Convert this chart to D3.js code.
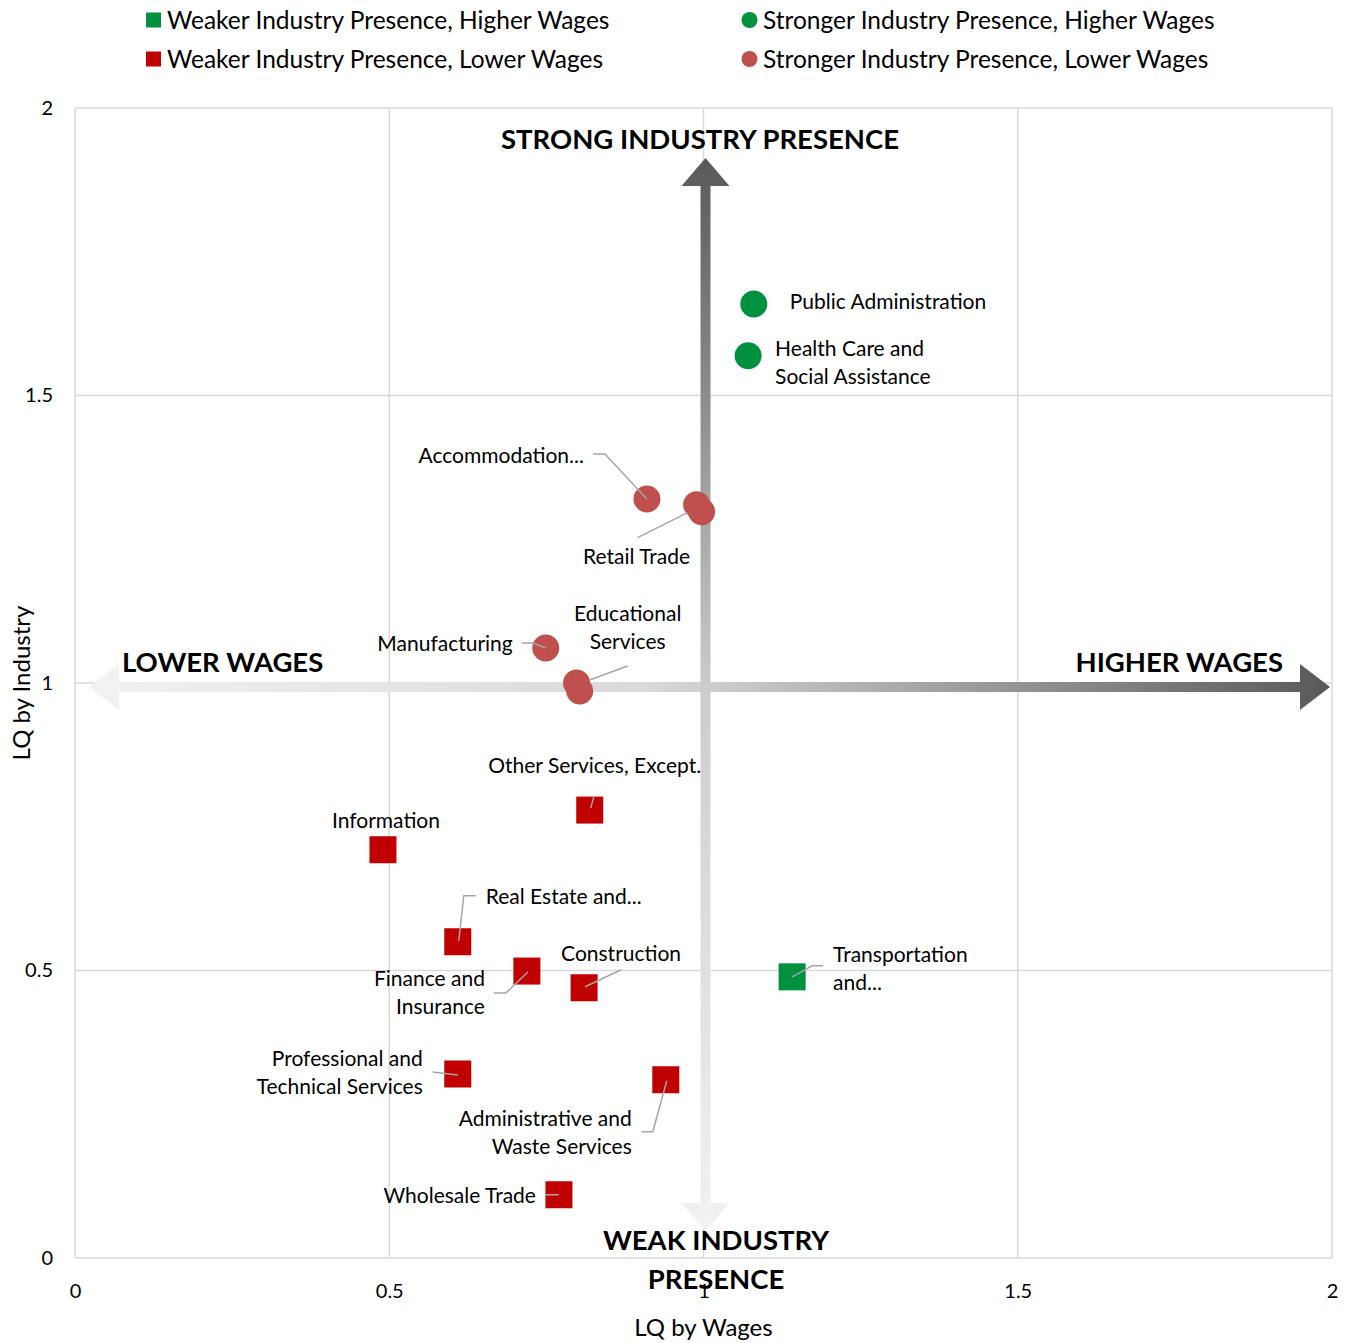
<!DOCTYPE html>
<html>
<head>
<meta charset="utf-8">
<script src="https://cdn.jsdelivr.net/npm/d3@7"></script>
<style>
  body { margin: 0; background: #fff; }
  svg text { font-family: Lato, "Noto Sans", sans-serif; fill: #000; }
</style>
</head>
<body>
<div id="chart"></div>
<script>
// industry data (LQ by wages on x, LQ by industry on y)
let industries = ["Public Administration", "Health Care and\nSocial Assistance", "Accommodation...",
    "Retail Trade", "", "Manufacturing", "Educational\nServices", "", "Other Services, Except.",
    "Information", "Real Estate and...", "Finance and\nInsurance", "Construction",
    "Transportation\nand...", "Professional and\nTechnical Services",
    "Administrative and\nWaste Services", "Wholesale Trade"];
let lqWages = [1.080, 1.071, 0.910, 0.997, 0.989, 0.749, 0.803, 0.798, 0.819,
    0.490, 0.609, 0.719, 0.810, 1.141, 0.609, 0.940, 0.770];
let lqIndustry = [1.659, 1.569, 1.320, 1.298, 1.310, 1.061, 0.986, 1.000, 0.779,
    0.710, 0.550, 0.499, 0.470, 0.489, 0.320, 0.310, 0.110];
let groups = ["SH", "SH", "SL", "SL", "SL", "SL", "SL", "SL", "WL",
    "WL", "WL", "WL", "WL", "WH", "WL", "WL", "WL"];

let legendKeys = ["WH", "SH", "WL", "SL"];
let legendNames = {
    WH: "Weaker Industry Presence, Higher Wages",
    SH: "Stronger Industry Presence, Higher Wages",
    WL: "Weaker Industry Presence, Lower Wages",
    SL: "Stronger Industry Presence, Lower Wages"
};
let xTicks = [0, 0.5, 1, 1.5, 2];
let yTicks = [0, 0.5, 1, 1.5, 2];

// label placement relative to the point, in pixels
let labelPos = [
    { dx: 36, dy: -2, anchor: 'start' },
    { dx: 27, dy: -7, anchor: 'start' },
    { dx: -63, dy: -43, anchor: 'end', leader: [[-54, -45], [-42, -45], [0, 0]] },
    { dx: -65, dy: 45, anchor: 'middle', leader: [[-64, 26], [-14, 1]] },
    null,
    { dx: -33, dy: -4, anchor: 'end', leader: [[-24, -5], [-13, -5], [0, 0]] },
    { dx: 48, dy: -77, anchor: 'middle', leader: [[48, -25], [10, -11]] },
    null,
    { dx: 5, dy: -44, anchor: 'middle', leader: [[4, -13], [1, -2]] },
    { dx: 3, dy: -29, anchor: 'middle' },
    { dx: 28, dy: -45, anchor: 'start', leader: [[18, -46], [6, -46], [1, -1]] },
    { dx: -42, dy: 8, anchor: 'end', leader: [[-33, 22], [-21, 22], [1, 1]] },
    { dx: 37, dy: -34, anchor: 'middle', leader: [[37, -18], [1, -1]] },
    { dx: 41, dy: -22, anchor: 'start', leader: [[31, -11], [20, -11], [0, 0]] },
    { dx: -35, dy: -15, anchor: 'end', leader: [[-25, -2], [0, 1]] },
    { dx: -34, dy: 39, anchor: 'end', leader: [[-24, 52], [-13, 52], [1, 1]] },
    { dx: -23, dy: 1, anchor: 'end', leader: [[-14, 0], [0, 0]] }
];

let colors = { SH: '#00913f', WH: '#00913f', SL: '#c0504d', WL: '#c00000' };

let svgWidth = 1348;
let svgHeight = 1343;
let margin = { top: 108, right: 16, bottom: 85, left: 75 };
let width = svgWidth - margin.left - margin.right;
let height = svgHeight - margin.top - margin.bottom;

let svg = d3.select('#chart')
    .append('svg')
    .attr('width', svgWidth)
    .attr('height', svgHeight);

let defs = svg.append('defs');

let chartgroup = svg.append('g')
    .attr('transform', `translate(${margin.left},${margin.top})`);

let xScale = d3.scaleLinear().domain([0, 2]).range([0, width]);
let yScale = d3.scaleLinear().domain([0, 2]).range([height, 0]);

// gridlines
chartgroup.append('g')
    .selectAll('line')
    .data(xTicks)
    .enter()
    .append('line')
    .attr('x1', d => xScale(d)).attr('x2', d => xScale(d))
    .attr('y1', 0).attr('y2', height)
    .attr('stroke', '#d9d9d9').attr('stroke-width', 1.5);
chartgroup.append('g')
    .selectAll('line')
    .data(yTicks)
    .enter()
    .append('line')
    .attr('x1', 0).attr('x2', width)
    .attr('y1', d => yScale(d)).attr('y2', d => yScale(d))
    .attr('stroke', '#d9d9d9').attr('stroke-width', 1.5);

// axes (tick labels only)
let xAxis = chartgroup.append('g')
    .attr('transform', `translate(0,${height})`)
    .call(d3.axisBottom(xScale).tickValues(xTicks).tickSize(0).tickPadding(26).tickFormat(d3.format('')));
let yAxis = chartgroup.append('g')
    .call(d3.axisLeft(yScale).tickValues(yTicks).tickSize(0).tickPadding(22).tickFormat(d3.format('')));
[xAxis, yAxis].forEach(a => {
    a.select('.domain').remove();
    a.selectAll('text').attr('font-size', 20).attr('font-family', 'Lato, sans-serif').attr('fill', '#000');
});

// big arrows
let hGrad = defs.append('linearGradient').attr('id', 'hgrad')
    .attr('gradientUnits', 'userSpaceOnUse')
    .attr('x1', 14).attr('x2', width - 2).attr('y1', 0).attr('y2', 0);
hGrad.append('stop').attr('offset', 0).attr('stop-color', '#f2f2f2');
hGrad.append('stop').attr('offset', 0.45).attr('stop-color', '#d9d9d9');
hGrad.append('stop').attr('offset', 1).attr('stop-color', '#595959');

let vGrad = defs.append('linearGradient').attr('id', 'vgrad')
    .attr('gradientUnits', 'userSpaceOnUse')
    .attr('x1', 0).attr('x2', 0).attr('y1', 50).attr('y2', 1123);
vGrad.append('stop').attr('offset', 0).attr('stop-color', '#595959');
vGrad.append('stop').attr('offset', 0.5).attr('stop-color', '#cdcdcd');
vGrad.append('stop').attr('offset', 1).attr('stop-color', '#f2f2f2');

let hy = yScale(1) + 4, hLeft = 14, hRight = width - 2;
chartgroup.append('path')
    .attr('d', `M${hLeft},${hy} L${hLeft + 30},${hy - 23} L${hLeft + 30},${hy - 5} L${hRight - 30},${hy - 5}
      L${hRight - 30},${hy - 23} L${hRight},${hy} L${hRight - 30},${hy + 23} L${hRight - 30},${hy + 5}
      L${hLeft + 30},${hy + 5} L${hLeft + 30},${hy + 23} Z`)
    .attr('fill', 'url(#hgrad)');

let vx = xScale(1) + 2, vTop = 50, vBot = 1123;
chartgroup.append('path')
    .attr('d', `M${vx},${vTop} L${vx + 24},${vTop + 28} L${vx + 5},${vTop + 28} L${vx + 5},${vBot - 28}
      L${vx + 24},${vBot - 28} L${vx},${vBot} L${vx - 24},${vBot - 28} L${vx - 5},${vBot - 28}
      L${vx - 5},${vTop + 28} L${vx - 24},${vTop + 28} Z`)
    .attr('fill', 'url(#vgrad)');

// points
let data = industries.map((name, i) => ({
    name: name, x: lqWages[i], y: lqIndustry[i], group: groups[i], pos: labelPos[i]
}));

chartgroup.selectAll('circle.pt')
    .data(data.filter(d => d.group[0] === 'S'))
    .enter()
    .append('circle')
    .attr('class', 'pt')
    .attr('cx', d => xScale(d.x))
    .attr('cy', d => yScale(d.y))
    .attr('r', 13.5)
    .attr('fill', d => colors[d.group]);

chartgroup.selectAll('rect.pt')
    .data(data.filter(d => d.group[0] === 'W'))
    .enter()
    .append('rect')
    .attr('class', 'pt')
    .attr('x', d => xScale(d.x) - 13.5)
    .attr('y', d => yScale(d.y) - 13.5)
    .attr('width', 27)
    .attr('height', 27)
    .attr('fill', d => colors[d.group]);

// leader lines
let labeled = data.filter(d => d.pos);
chartgroup.selectAll('polyline.leader')
    .data(labeled.filter(d => d.pos.leader))
    .enter()
    .append('polyline')
    .attr('class', 'leader')
    .attr('points', d => d.pos.leader.map(p => [xScale(d.x) + p[0], yScale(d.y) + p[1]].join(',')).join(' '))
    .attr('fill', 'none')
    .attr('stroke', '#a6a6a6')
    .attr('stroke-width', 1.5);

// data labels
let labels = chartgroup.selectAll('text.lbl')
    .data(labeled)
    .enter()
    .append('text')
    .attr('class', 'lbl')
    .attr('font-size', 21)
    .attr('text-anchor', d => d.pos.anchor)
    .attr('fill', '#000');
labels.each(function (d) {
    let lines = d.name.split('\n');
    d3.select(this).selectAll('tspan')
        .data(lines)
        .enter()
        .append('tspan')
        .attr('x', xScale(d.x) + d.pos.dx)
        .attr('y', (l, j) => yScale(d.y) + d.pos.dy + j * 28)
        .attr('dy', '0.35em')
        .text(l => l);
});

// quadrant captions
function bold(txt, x, y, anchor) {
    chartgroup.append('text')
        .attr('x', x).attr('y', y)
        .attr('dy', '0.35em')
        .attr('text-anchor', anchor)
        .attr('font-size', 27.5)
        .attr('font-weight', 'bold')
        .text(txt);
}
bold('STRONG INDUSTRY PRESENCE', 700 - margin.left, 139 - margin.top, 'middle');
bold('LOWER WAGES', 122 - margin.left, 662 - margin.top, 'start');
bold('HIGHER WAGES', 1283 - margin.left, 662 - margin.top, 'end');
bold('WEAK INDUSTRY', 716 - margin.left, 1240 - margin.top, 'middle');
bold('PRESENCE', 716 - margin.left, 1279 - margin.top, 'middle');

// axis titles
svg.append('text')
    .attr('transform', `translate(22,${margin.top + yScale(1)}) rotate(-90)`)
    .attr('dy', '0.35em')
    .attr('text-anchor', 'middle')
    .attr('font-size', 24)
    .text('LQ by Industry');
svg.append('text')
    .attr('x', margin.left + xScale(1))
    .attr('y', 1328)
    .attr('dy', '0.35em')
    .attr('text-anchor', 'middle')
    .attr('font-size', 24)
    .text('LQ by Wages');

// legend
let legend = svg.append('g');
let legItems = legend.selectAll('g')
    .data(legendKeys)
    .enter()
    .append('g')
    .attr('transform', (d, i) => `translate(${i % 2 === 0 ? 146 : 742},${i < 2 ? 20 : 59})`);
legItems.filter(d => d[0] === 'W').append('rect')
    .attr('x', 0).attr('y', -7.5).attr('width', 15).attr('height', 15)
    .attr('fill', d => colors[d]);
legItems.filter(d => d[0] === 'S').append('circle')
    .attr('cx', 7.5).attr('cy', 0).attr('r', 8)
    .attr('fill', d => colors[d]);
legItems.append('text')
    .attr('x', 21)
    .attr('dy', '0.35em')
    .attr('font-size', 24.5)
    .text(d => legendNames[d]);
</script>
</body>
</html>
